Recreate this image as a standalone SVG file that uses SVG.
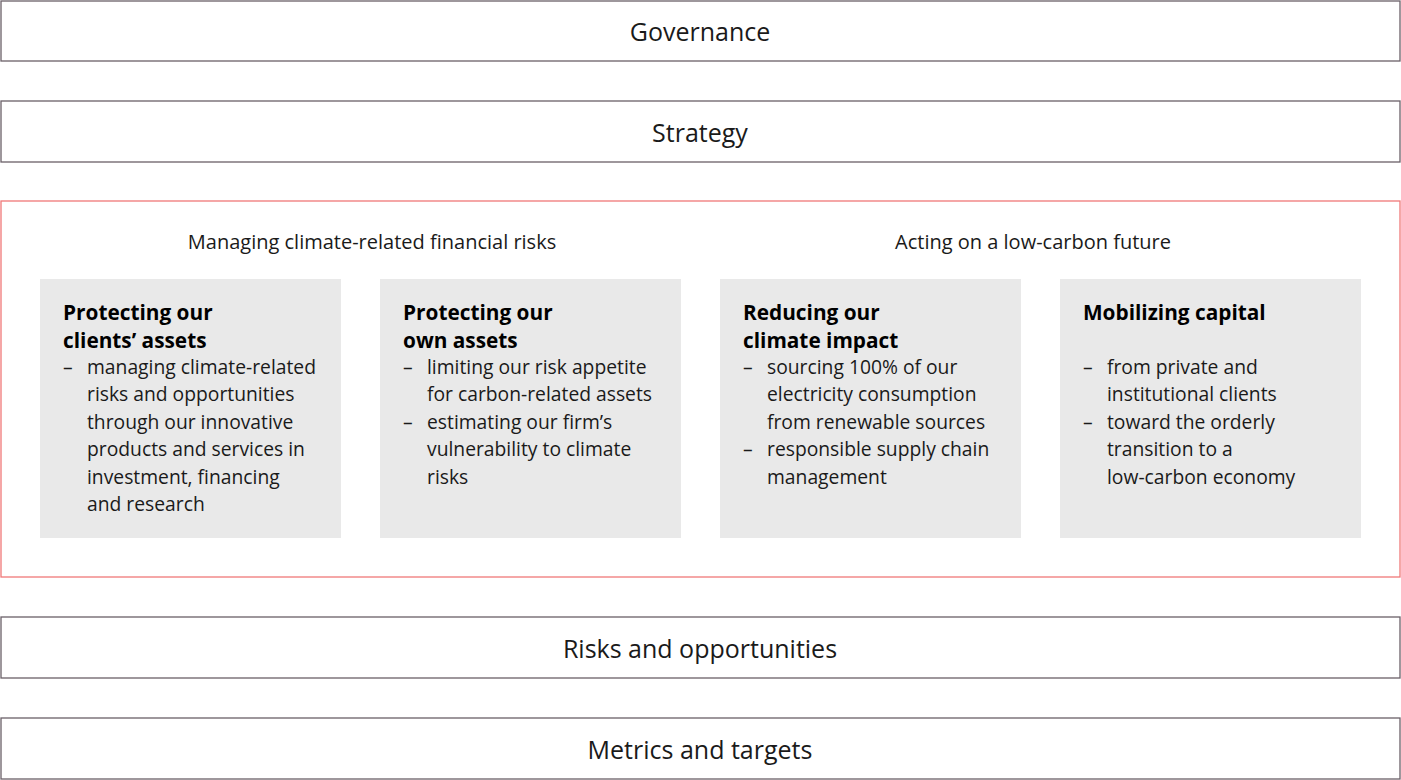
<svg xmlns="http://www.w3.org/2000/svg" width="1401" height="780" viewBox="0 0 1401 780">
<style>
.band{fill:#fff;stroke:#6a6068;stroke-width:1.3}
.frame{fill:#fff;stroke:#f07878;stroke-width:1.3}
.card{fill:#e9e9e9}
.big{font-family:"Open Sans","Liberation Sans",sans-serif;font-size:25px;fill:#1a1a1a;text-anchor:middle}
.hdr{font-family:"Open Sans","Liberation Sans",sans-serif;font-size:20px;fill:#1a1a1a;text-anchor:middle}
.ttl{font-family:"Open Sans","Liberation Sans",sans-serif;font-size:20.8px;font-weight:bold;fill:#000}
.txt{font-family:"Open Sans","Liberation Sans",sans-serif;font-size:19.3px;fill:#1a1a1a}
</style>
<g id="governance"><rect class="band" x="1" y="1" width="1399" height="60"/><text class="big" x="700" y="41">Governance</text></g>
<g id="strategy"><rect class="band" x="1" y="101" width="1399" height="61"/><text class="big" x="700" y="142">Strategy</text></g>
<g id="frame"><rect class="frame" x="1" y="201" width="1399" height="376"/>
<text class="hdr" x="372" y="249">Managing climate-related financial risks</text>
<text class="hdr" x="1033" y="249">Acting on a low-carbon future</text></g>
<g id="card1"><rect class="card" x="40" y="279" width="301" height="259"/>
<text class="ttl" x="63" y="320">Protecting our</text>
<text class="ttl" x="63" y="348">clients’ assets</text>
<text class="txt"><tspan x="63" y="374">–</tspan><tspan x="87" y="374">managing climate-related</tspan><tspan x="87" y="401">risks and opportunities</tspan><tspan x="87" y="429">through our innovative</tspan><tspan x="87" y="456">products and services in</tspan><tspan x="87" y="484">investment, financing</tspan><tspan x="87" y="511">and research</tspan></text></g>
<g id="card2"><rect class="card" x="380" y="279" width="301" height="259"/>
<text class="ttl" x="403" y="320">Protecting our</text>
<text class="ttl" x="403" y="348">own assets</text>
<text class="txt"><tspan x="403" y="374">–</tspan><tspan x="427" y="374">limiting our risk appetite</tspan><tspan x="427" y="401">for carbon-related assets</tspan><tspan x="403" y="429">–</tspan><tspan x="427" y="429">estimating our firm’s</tspan><tspan x="427" y="456">vulnerability to climate</tspan><tspan x="427" y="484">risks</tspan></text></g>
<g id="card3"><rect class="card" x="720" y="279" width="301" height="259"/>
<text class="ttl" x="743" y="320">Reducing our</text>
<text class="ttl" x="743" y="348">climate impact</text>
<text class="txt"><tspan x="743" y="374">–</tspan><tspan x="767" y="374">sourcing 100% of our</tspan><tspan x="767" y="401">electricity consumption</tspan><tspan x="767" y="429">from renewable sources</tspan><tspan x="743" y="456">–</tspan><tspan x="767" y="456">responsible supply chain</tspan><tspan x="767" y="484">management</tspan></text></g>
<g id="card4"><rect class="card" x="1060" y="279" width="301" height="259"/>
<text class="ttl" x="1083" y="320">Mobilizing capital</text>
<text class="txt"><tspan x="1083" y="374">–</tspan><tspan x="1107" y="374">from private and</tspan><tspan x="1107" y="401">institutional clients</tspan><tspan x="1083" y="429">–</tspan><tspan x="1107" y="429">toward the orderly</tspan><tspan x="1107" y="456">transition to a</tspan><tspan x="1107" y="484">low-carbon economy</tspan></text></g>
<g id="risks"><rect class="band" x="1" y="617" width="1399" height="61"/><text class="big" x="700" y="658">Risks and opportunities</text></g>
<g id="metrics"><rect class="band" x="1" y="718" width="1399" height="61"/><text class="big" x="700" y="759">Metrics and targets</text></g>
<g id="connectors"></g>
</svg>
